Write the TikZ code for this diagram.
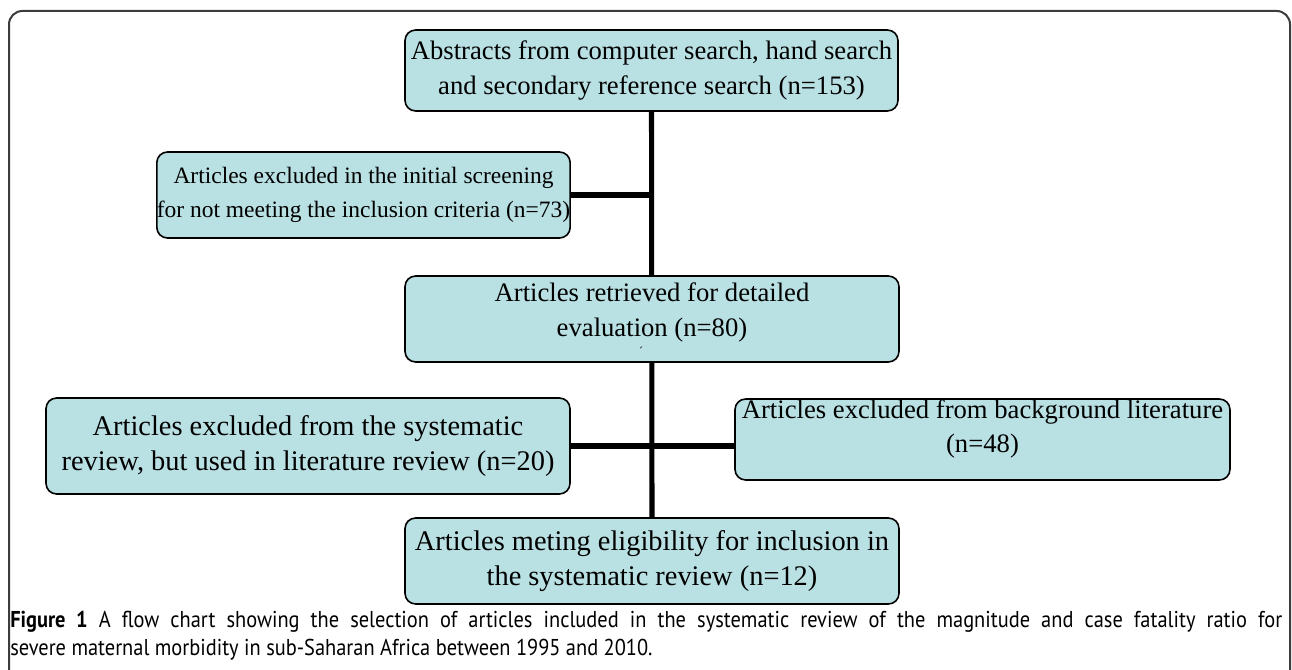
\documentclass[tikz,border=0pt]{standalone}
\usepackage{fontspec}
\setmainfont{Liberation Serif}
\newfontfamily\capfont[FakeStretch=0.89]{PT Sans}
\usetikzlibrary{backgrounds}
\definecolor{boxfill}{RGB}{185,224,227}
\definecolor{framegray}{RGB}{60,60,60}
\newcommand{\fs}[1]{\fontsize{#1}{26}\selectfont}
\begin{document}
\begin{tikzpicture}[x=0.75pt,y=-0.75pt,
  flowbox/.style={draw=black, line width=1.2pt, fill=boxfill, rounded corners=8pt,
    align=center, inner sep=0pt},
  conn/.style={line width=3.8pt, black}]
\useasboundingbox (0,0) rectangle (1292,670);
\draw[line width=1.5pt, draw=framegray, rounded corners=10pt] (9,690) -- (9,11) -- (1290,11) -- (1290,690);

\node[flowbox, font=\fs{20}, minimum width={493*0.75pt}, minimum height={81*0.75pt}] (b1) at (651.5,70.5)
  {Abstracts from computer search, hand search\\and secondary reference search (n=153)};
\node[flowbox, font=\fs{17.6}, minimum width={413*0.75pt}, minimum height={86*0.75pt}] (b2) at (363.5,195)
  {Articles excluded in the initial screening\\for not meeting the inclusion criteria (n=73)};
\node[flowbox, font=\fs{20}, minimum width={494*0.75pt}, minimum height={86*0.75pt}] (b3) at (652,319)
  {Articles retrieved for detailed\\evaluation (n=80)\\[-12pt]\phantom{x}};
\node[font=\fontsize{9}{9}\selectfont] (mark) at (641,351) {´};
\node[flowbox, font=\fs{21.3}, minimum width={524*0.75pt}, minimum height={96*0.75pt}] (b4) at (308,446)
  {Articles excluded from the systematic\\review, but used in literature review (n=20)};
\node[flowbox, font=\fs{20}, minimum width={495*0.75pt}, minimum height={81*0.75pt}] (b5) at (982.5,439.5)
  {Articles excluded from background literature\\(n=48)\\[-6pt]\phantom{x}};
\node[flowbox, font=\fs{21.3}, minimum width={494*0.75pt}, minimum height={86*0.75pt}] (b6) at (652,561)
  {Articles meting eligibility for inclusion in\\the systematic review (n=12)};

\begin{pgfonlayer}{background}
\draw[conn] (b1.south) -- (b6.north);
\draw[conn] (b2.east) -- (b2.east -| b1.south);
\draw[conn] (b4.east) -- (b4.east -| b5.west);
\end{pgfonlayer}

\node[anchor=north west, inner sep=0pt, text width={1272*0.75pt}, align=justify,
  font=\capfont\fontsize{17.2}{21}\selectfont] (cap) at (10,611)
  {\hfuzz=20pt\textbf{Figure 1} A flow chart showing the selection of articles included in the systematic review of the magnitude and case fatality ratio for\linebreak severe maternal morbidity in sub-Saharan Africa between 1995 and 2010.};
\end{tikzpicture}
\end{document}
